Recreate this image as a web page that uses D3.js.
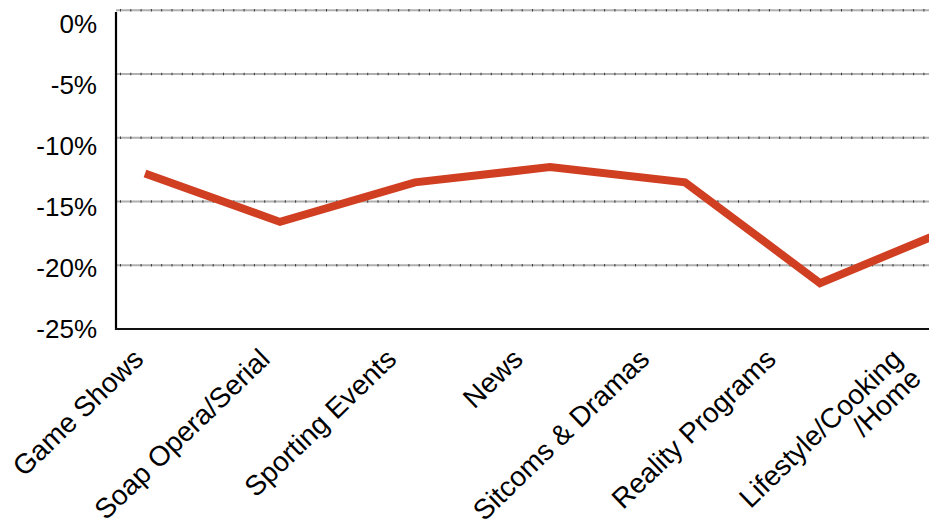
<!DOCTYPE html>
<html>
<head>
<meta charset="utf-8">
<script src="https://cdn.jsdelivr.net/npm/d3@7"></script>
<style>
  html, body { margin: 0; padding: 0; background: #fff; }
  svg { display: block; font-family: "Liberation Sans", Arial, sans-serif; }
</style>
</head>
<body>
<svg id="chart" width="929" height="525"></svg>
<script>
// Change in viewing by programme genre (percent)
const categories = ["Game Shows", "Soap Opera/Serial", "Sporting Events", "News",
                    "Sitcoms & Dramas", "Reality Programs", "Lifestyle/Cooking\n/Home"];
const values = [-12.8, -16.6, -13.5, -12.3, -13.5, -21.4, -17.0];
const yTicks = [0, -5, -10, -15, -20, -25];

const svg = d3.select("#chart");
const W = 929;
const plotLeft = 116, plotTop = 10.3, plotBottom = 329;

// value scale for the plotted line and gridlines
const y = d3.scaleLinear().domain([-25, 0]).range([plotBottom, plotTop]);
// tick-label placement along the value axis
const yLabel = d3.scaleLinear().domain([-25, 0]).range([329, 24]);

// category positions for the line
const x = d3.scalePoint().domain(categories).range([145, 955]);
// category positions for the rotated tick labels
const xLabel = d3.scalePoint().domain(categories).range([145, 904]);

// gridlines: light grey band with small dark tick marks
const grid = svg.append("g");
yTicks.filter(t => t !== -25).forEach(t => {
  grid.append("line")
    .attr("x1", plotLeft).attr("x2", W)
    .attr("y1", y(t)).attr("y2", y(t))
    .attr("stroke", "#b0b0b0").attr("stroke-width", 2);
  grid.append("line")
    .attr("x1", plotLeft + 4).attr("x2", W)
    .attr("y1", y(t)).attr("y2", y(t))
    .attr("stroke", "#3a3a3a").attr("stroke-width", 2.4)
    .attr("stroke-dasharray", "1 9.3");
});

// axes lines
svg.append("line")
  .attr("x1", plotLeft).attr("x2", plotLeft)
  .attr("y1", 12).attr("y2", plotBottom + 1)
  .attr("stroke", "#000").attr("stroke-width", 2.2);
svg.append("line")
  .attr("x1", plotLeft - 1).attr("x2", W)
  .attr("y1", plotBottom).attr("y2", plotBottom)
  .attr("stroke", "#111").attr("stroke-width", 2);

// y tick labels
svg.append("g").selectAll("text")
  .data(yTicks).join("text")
  .attr("x", 97)
  .attr("y", d => yLabel(d))
  .attr("dy", "0.35em")
  .attr("text-anchor", "end")
  .attr("font-size", 26)
  .attr("fill", "#000")
  .text(d => d + "%");

// data line
const line = d3.line()
  .x((d, i) => x(categories[i]))
  .y(d => y(d));
svg.append("path")
  .datum(values)
  .attr("d", line)
  .attr("fill", "none")
  .attr("stroke", "#d13f22")
  .attr("stroke-width", 8)
  .attr("stroke-linejoin", "miter");

// rotated category labels
const xl = svg.append("g").selectAll("g")
  .data(categories).join("g")
  .attr("transform", d => `translate(${xLabel(d)},361) rotate(-44)`);
xl.each(function(d) {
  const lines = d.split("\n");
  const t = d3.select(this).append("text")
    .attr("text-anchor", "end")
    .attr("font-size", 28)
    .attr("fill", "#000");
  lines.forEach((s, i) => {
    t.append("tspan").attr("x", 0).attr("dy", i === 0 ? 0 : 27).text(s);
  });
});
</script>
</body>
</html>
